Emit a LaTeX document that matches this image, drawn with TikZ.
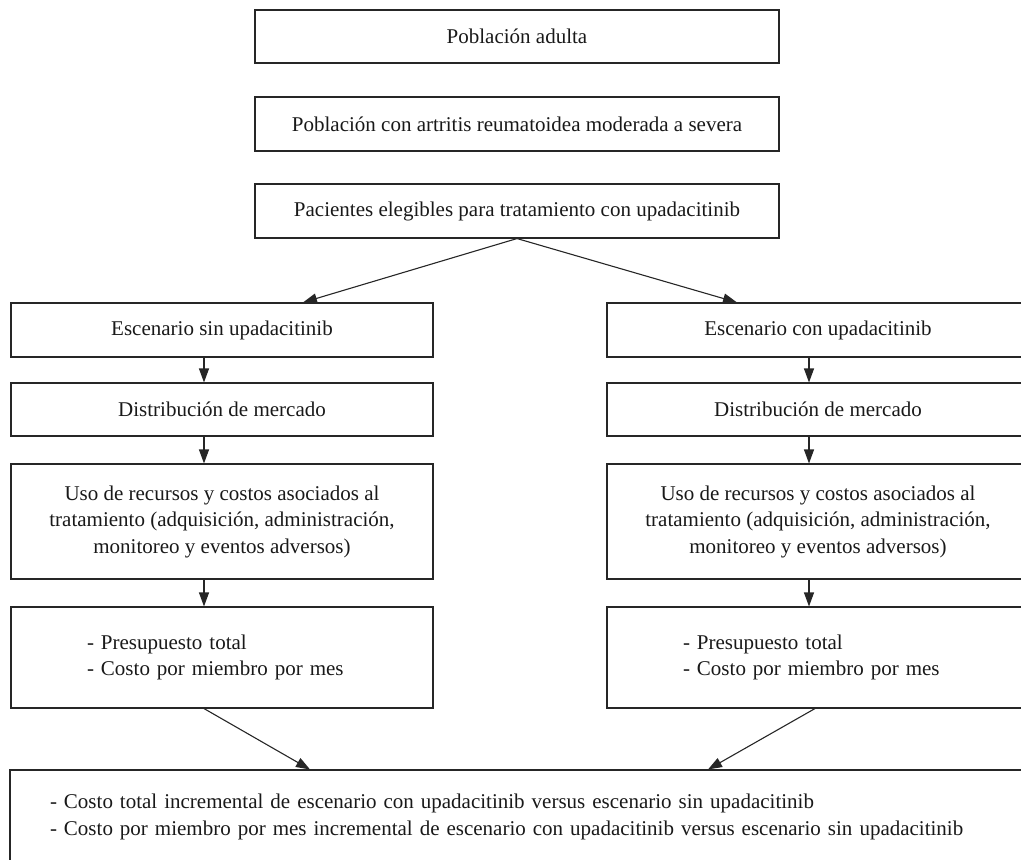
\documentclass[tikz,border=0pt]{standalone}
\usepackage{fontspec}
\setmainfont{Liberation Serif}
\usetikzlibrary{arrows.meta,calc}
\begin{document}
\begin{tikzpicture}[x=1pt,y=-1pt,
  box/.style={draw=black!85, line width=1.1pt, inner sep=0pt,
    font=\fontsize{21}{26.5}\selectfont, text=black!90, align=center},
  arr/.style={draw=black!85, line width=1.1pt, -{Triangle[length=14pt,width=10pt]}}]
\useasboundingbox (0,0) rectangle (1021,860);
\clip (0,0) rectangle (1021,860);
% top column
\node[box, minimum width=524pt, minimum height=53pt] (b1) at (517,36.5) {Población adulta};
\node[box, minimum width=524pt, minimum height=54pt] (b2) at (517,124) {Población con artritis reumatoidea moderada a severa};
\node[box, minimum width=524pt, minimum height=54pt] (b3) at (517,211) {Pacientes elegibles para tratamiento con upadacitinib};
% left column
\node[box, minimum width=422pt, minimum height=54pt] (L1) at (222,330) {Escenario sin upadacitinib};
\node[box, minimum width=422pt, minimum height=53pt] (L2) at (222,409.5) {Distribución de mercado};
\node[box, minimum width=422pt, minimum height=115pt] (L3) at (222,521.5) {Uso de recursos y costos asociados al\\tratamiento (adquisición, administración,\\monitoreo y eventos adversos)};
\node[box, minimum width=422pt, minimum height=101pt, text width=270pt, align=left] (L4) at (222,657.5) {- Presupuesto total\\- Costo por miembro por mes};
% right column
\node[box, minimum width=422pt, minimum height=54pt] (R1) at (818,330) {Escenario con upadacitinib};
\node[box, minimum width=422pt, minimum height=53pt] (R2) at (818,409.5) {Distribución de mercado};
\node[box, minimum width=422pt, minimum height=115pt] (R3) at (818,521.5) {Uso de recursos y costos asociados al\\tratamiento (adquisición, administración,\\monitoreo y eventos adversos)};
\node[box, minimum width=422pt, minimum height=101pt, text width=270pt, align=left] (R4) at (818,657.5) {- Presupuesto total\\- Costo por miembro por mes};
% bottom
\node[box, minimum width=1020pt, minimum height=94pt, text width=940pt, align=left] (bot) at (520,817) {- Costo total incremental de escenario con upadacitinib versus escenario sin upadacitinib\\- Costo por miembro por mes incremental de escenario con upadacitinib versus escenario sin upadacitinib};
% helper coordinates
\coordinate (lx) at (204,0);
\coordinate (rx) at (809,0);
\coordinate (tL) at (303,0);
\coordinate (tR) at (737,0);
\coordinate (sL) at (204,0);
\coordinate (sR) at (815,0);
\coordinate (eL) at (310,0);
\coordinate (eR) at (708,0);
% connectors
\draw[arr] (b3.south) -- (L1.north -| tL);
\draw[arr] (b3.south) -- (R1.north -| tR);
\draw[arr] (L1.south -| lx) -- (L2.north -| lx);
\draw[arr] (L2.south -| lx) -- (L3.north -| lx);
\draw[arr] (L3.south -| lx) -- (L4.north -| lx);
\draw[arr] (R1.south -| rx) -- (R2.north -| rx);
\draw[arr] (R2.south -| rx) -- (R3.north -| rx);
\draw[arr] (R3.south -| rx) -- (R4.north -| rx);
\draw[arr] (L4.south -| sL) -- (bot.north -| eL);
\draw[arr] (R4.south -| sR) -- (bot.north -| eR);
\end{tikzpicture}
\end{document}
